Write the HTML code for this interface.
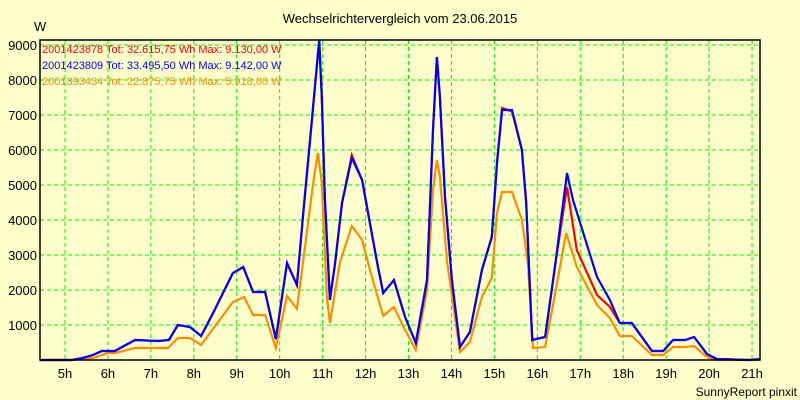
<!DOCTYPE html>
<html><head><meta charset="utf-8"><style>
body{margin:0;background:#FFFFCC;}
svg{display:block;font-family:"Liberation Sans",sans-serif;}
</style></head><body>
<svg id="chart" width="800" height="400" viewBox="0 0 800 400">
<rect x="0" y="0" width="800" height="400" fill="#FFFFCC"/>
<text x="400" y="23" font-size="13" text-anchor="middle" fill="#000">Wechselrichtervergleich vom 23.06.2015</text>
<text x="34" y="31" font-size="13" fill="#000">W</text>
<g id="grid"></g>
<g id="ticks"></g>
<g id="series"></g>
<rect x="40" y="40" width="720" height="320" fill="none" stroke="#000" stroke-width="1.5"/>
<g font-size="11">
<text x="42" y="53" fill="#FF0000">2001423878 Tot: 32.615,75 Wh Max: 9.130,00 W</text>
<text x="42" y="69" fill="#0000FF">2001423809 Tot: 33.495,50 Wh Max: 9.142,00 W</text>
<text x="42" y="85" fill="#FF8C00">2001393434 Tot: 22.875,75 Wh Max: 5.918,00 W</text>
</g>
<text x="797" y="396" font-size="12" text-anchor="end" fill="#000">SunnyReport pinxit</text>
</svg>
<script>
const yTicks=[1000,2000,3000,4000,5000,6000,7000,8000,9000];
const xTicks=[5,6,7,8,9,10,11,12,13,14,15,16,17,18,19,20,21];
const blueT=[4.42,5.16,5.40,5.65,5.86,6.16,6.63,7.17,7.42,7.63,7.91,8.17,8.45,8.91,9.15,9.38,9.66,9.91,10.17,10.40,10.54,10.75,10.87,10.92,10.98,11.05,11.17,11.29,11.45,11.68,11.92,12.10,12.27,12.41,12.66,12.92,13.17,13.43,13.57,13.66,13.73,13.85,14.01,14.20,14.43,14.71,14.94,15.06,15.18,15.41,15.64,15.74,15.88,16.18,16.41,16.69,16.83,17.39,17.69,17.92,18.20,18.67,18.93,19.16,19.44,19.65,19.95,20.18,20.95,21.19];
const blueV=[0,0,57,143,257,257,571,543,571,1000,943,686,1343,2486,2657,1943,1943,600,2771,2143,4086,6857,8486,9142,7514,4657,1714,2771,4486,5771,5143,3914,2771,1914,2286,1229,486,2286,6571,8657,7514,4657,2286,371,800,2571,3514,5629,7143,7143,6000,4486,571,657,2657,5343,4571,2371,1714,1057,1057,257,257,571,571,657,171,29,0,29];
const redT=[4.42,5.16,5.40,5.65,5.86,6.16,6.63,7.17,7.42,7.63,7.91,8.17,8.45,8.91,9.15,9.38,9.66,9.91,10.17,10.40,10.54,10.75,10.87,10.92,10.98,11.05,11.17,11.29,11.45,11.68,11.92,12.10,12.27,12.41,12.66,12.92,13.17,13.43,13.57,13.66,13.73,13.85,14.01,14.20,14.43,14.71,14.94,15.06,15.18,15.41,15.64,15.74,15.88,16.18,16.41,16.69,16.92,17.39,17.69,17.92,18.20,18.67,18.93,19.16,19.44,19.65,19.95,20.18,20.95];
const redV=[0,0,57,143,257,257,571,543,571,1000,943,686,1343,2486,2657,1943,1943,600,2771,2143,4086,6857,8486,9130,7514,4657,1714,2771,4486,5850,5143,3914,2771,1914,2286,1229,486,2286,6571,8657,7514,4657,2286,371,800,2571,3514,5629,7200,7100,6000,4486,571,657,2657,4943,3143,1857,1514,1057,1057,257,257,571,571,657,171,29,0];
const orangeT=[4.42,5.16,5.65,5.86,6.00,6.16,6.63,7.40,7.63,7.91,8.17,8.91,9.17,9.38,9.66,9.91,10.17,10.40,10.54,10.78,10.89,10.98,11.10,11.17,11.40,11.68,11.92,12.10,12.41,12.66,12.92,13.17,13.43,13.57,13.66,13.73,13.90,14.20,14.43,14.71,14.94,15.06,15.18,15.41,15.64,15.78,15.90,16.18,16.46,16.67,16.92,17.39,17.69,17.92,18.20,18.67,18.93,19.16,19.44,19.65,19.95,20.18,21.19];
const orangeV=[0,0,57,143,200,200,343,343,629,629,429,1657,1800,1286,1286,343,1829,1457,2771,5057,5914,5057,1800,1057,2771,3829,3429,2571,1257,1514,857,286,2000,4857,5714,5229,2771,229,514,1800,2343,4200,4800,4800,4000,2771,343,371,2200,3629,2657,1571,1200,686,686,143,143,371,371,400,86,0,0];

const NS="http://www.w3.org/2000/svg";
const X0=65,XS=42.94,Y0=360,YS=0.035;
function sx(h){return X0+(h-5)*XS;}
function sy(v){return Y0-v*YS;}
const grid=document.getElementById('grid'),ticks=document.getElementById('ticks'),series=document.getElementById('series');
yTicks.forEach(v=>{
  const l=document.createElementNS(NS,'line');
  
  
  l.setAttribute('x1',40);l.setAttribute('x2',760);l.setAttribute('y1',sy(v));l.setAttribute('y2',sy(v));
  l.setAttribute('stroke','#00F000');l.setAttribute('stroke-dasharray','4,3');l.setAttribute('stroke-width','1');
  grid.appendChild(l);
  const t=document.createElementNS(NS,'text');
  
  
  t.setAttribute('x',37);t.setAttribute('y',sy(v)+5);t.setAttribute('text-anchor','end');t.setAttribute('font-size','13');
  t.textContent=v;ticks.appendChild(t);
});
xTicks.forEach(h=>{
  const l=document.createElementNS(NS,'line');
  
  
  l.setAttribute('x1',sx(h));l.setAttribute('x2',sx(h));l.setAttribute('y1',40);l.setAttribute('y2',360);
  l.setAttribute('stroke','#00F000');l.setAttribute('stroke-dasharray','4,3');l.setAttribute('stroke-width','1');
  grid.appendChild(l);
  const t=document.createElementNS(NS,'text');
  
  
  t.setAttribute('x',sx(h));t.setAttribute('y',378);t.setAttribute('text-anchor','middle');t.setAttribute('font-size','13');
  t.textContent=h+'h';ticks.appendChild(t);
});
function line(T,V,color,name){
  const p=document.createElementNS(NS,'polyline');
  
  
  p.setAttribute('points',T.map((h,i)=>sx(h).toFixed(1)+','+sy(V[i]).toFixed(1)).join(' '));
  p.setAttribute('fill','none');p.setAttribute('stroke',color);p.setAttribute('stroke-width','2.2');p.setAttribute('stroke-linejoin','miter');
  series.appendChild(p);
}
line(orangeT,orangeV,'#FF8C00','series-2001393434');
line(redT,redV,'#FF0000','series-2001423878');
line(blueT,blueV,'#0000FF','series-2001423809');
</script>
</body></html>
